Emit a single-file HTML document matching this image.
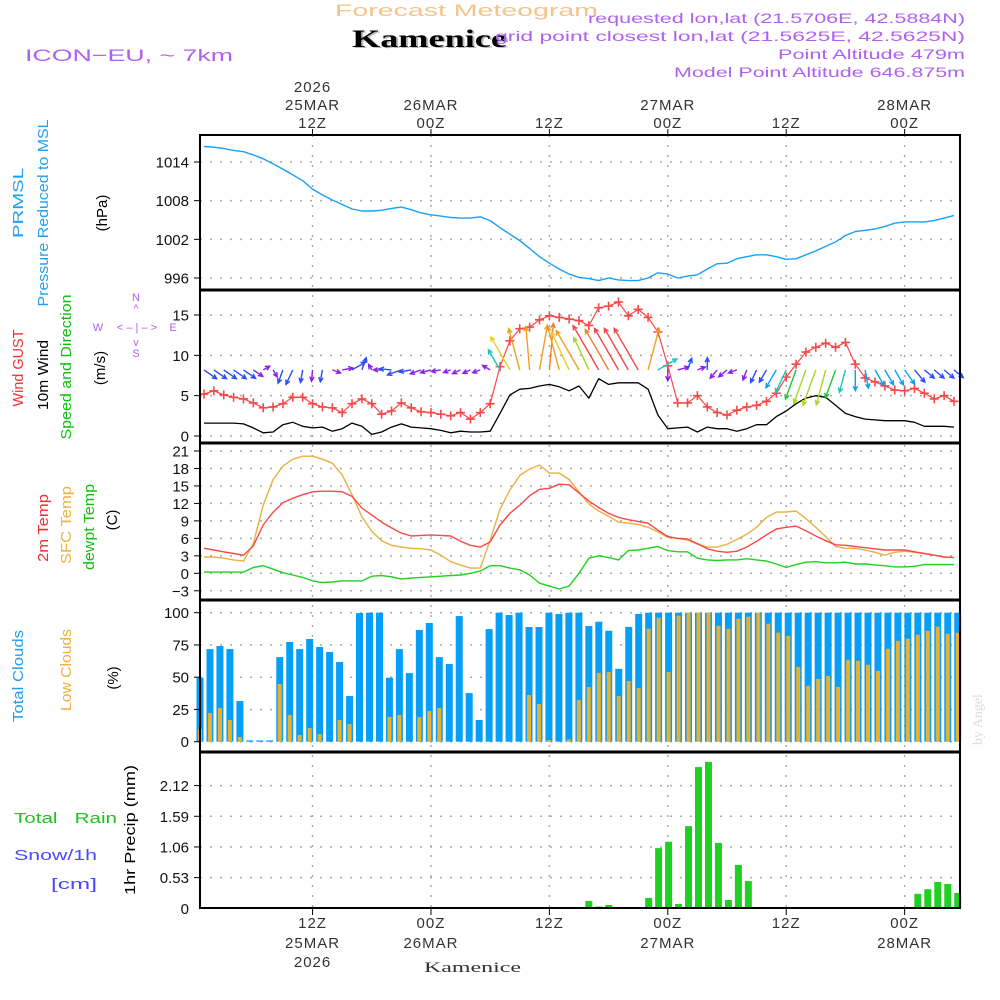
<!DOCTYPE html>
<html><head><meta charset="utf-8"><style>
html,body{margin:0;padding:0;background:#fff;}
svg{display:block;font-family:"Liberation Sans",sans-serif;}
</style></head><body>
<svg id="chart" xmlns="http://www.w3.org/2000/svg" width="1000" height="1000" viewBox="0 0 1000 1000">
<rect x="0" y="0" width="1000" height="1000" fill="#fff"/>
<g id="grid"></g>
<g id="marks"></g>
<g id="frames"></g>
<g id="ticks" font-size="15" fill="#111"></g>
<!-- header -->
<text x="335" y="16" font-size="17" fill="#f4c488" textLength="263" lengthAdjust="spacingAndGlyphs">Forecast Meteogram</text>
<text x="354" y="48" font-size="25" font-weight="bold" font-family="Liberation Serif, serif" fill="#bbb" textLength="155" lengthAdjust="spacingAndGlyphs">Kamenice</text>
<text x="352" y="47" font-size="25" font-weight="bold" font-family="Liberation Serif, serif" fill="#000" textLength="155" lengthAdjust="spacingAndGlyphs">Kamenice</text>
<text x="25" y="61" font-size="17" fill="#b060f0" textLength="208" lengthAdjust="spacingAndGlyphs">ICON−EU, ~ 7km</text>
<g font-size="14" fill="#b060f0" text-anchor="end">
<text x="965" y="23" textLength="377" lengthAdjust="spacingAndGlyphs">requested lon,lat (21.5706E, 42.5884N)</text>
<text x="965" y="41" textLength="470" lengthAdjust="spacingAndGlyphs">grid point closest lon,lat (21.5625E, 42.5625N)</text>
<text x="965" y="59" textLength="187" lengthAdjust="spacingAndGlyphs">Point Altitude 479m</text>
<text x="965" y="77" textLength="291" lengthAdjust="spacingAndGlyphs">Model Point Altitude 646.875m</text>
</g>
<!-- left labels -->
<g font-size="15">
<text transform="translate(23,203) rotate(-90)" text-anchor="middle" fill="#20a0f0" textLength="70" lengthAdjust="spacingAndGlyphs">PRMSL</text>
<text transform="translate(48,213) rotate(-90)" text-anchor="middle" fill="#20a0f0" textLength="187" lengthAdjust="spacingAndGlyphs">Pressure Reduced to MSL</text>
<text transform="translate(107,213) rotate(-90)" text-anchor="middle" fill="#000">(hPa)</text>
<text transform="translate(23,368) rotate(-90)" text-anchor="middle" fill="#f03030" textLength="77" lengthAdjust="spacingAndGlyphs">Wind GUST</text>
<text transform="translate(48,375) rotate(-90)" text-anchor="middle" fill="#000" textLength="70" lengthAdjust="spacingAndGlyphs">10m Wind</text>
<text transform="translate(71,367) rotate(-90)" text-anchor="middle" fill="#10c010" textLength="145" lengthAdjust="spacingAndGlyphs">Speed and Direction</text>
<text transform="translate(105,368) rotate(-90)" text-anchor="middle" fill="#000">(m/s)</text>
<text transform="translate(48,528) rotate(-90)" text-anchor="middle" fill="#f03030" textLength="68" lengthAdjust="spacingAndGlyphs">2m Temp</text>
<text transform="translate(71,525) rotate(-90)" text-anchor="middle" fill="#f0b040" textLength="78" lengthAdjust="spacingAndGlyphs">SFC Temp</text>
<text transform="translate(94,527) rotate(-90)" text-anchor="middle" fill="#10c010" textLength="86" lengthAdjust="spacingAndGlyphs">dewpt Temp</text>
<text transform="translate(117,520) rotate(-90)" text-anchor="middle" fill="#000">(C)</text>
<text transform="translate(23,676) rotate(-90)" text-anchor="middle" fill="#20a0f0" textLength="92" lengthAdjust="spacingAndGlyphs">Total Clouds</text>
<text transform="translate(71,670) rotate(-90)" text-anchor="middle" fill="#f0b040" textLength="82" lengthAdjust="spacingAndGlyphs">Low Clouds</text>
<text transform="translate(118,678) rotate(-90)" text-anchor="middle" fill="#000">(%)</text>
<text transform="translate(135,830) rotate(-90)" text-anchor="middle" fill="#000" textLength="130" lengthAdjust="spacingAndGlyphs">1hr Precip (mm)</text>
<text x="14" y="823" fill="#20c020" textLength="103" lengthAdjust="spacingAndGlyphs" xml:space="preserve">Total   Rain</text>
<text x="14" y="860" fill="#4848ff" textLength="83" lengthAdjust="spacingAndGlyphs">Snow/1h</text>
<text x="51" y="889" fill="#4848ff" textLength="46" lengthAdjust="spacingAndGlyphs">[cm]</text>
</g>
<g font-size="11" fill="#b060f0" text-anchor="middle">
<text x="136" y="301">N</text><text x="136" y="312">^</text><text x="137" y="331">&lt; – | – &gt;</text>
<text x="98" y="331">W</text><text x="173" y="331">E</text><text x="136" y="346">v</text><text x="136" y="357">S</text>
</g>
<text transform="translate(982,745) rotate(-90)" font-size="14" font-family="Liberation Serif, serif" fill="#ddd">by Angel</text>
<text x="424" y="972" font-size="15" font-family="Liberation Serif, serif" fill="#333" textLength="97" lengthAdjust="spacingAndGlyphs">Kamenice</text>
</svg>
<script>
const hours = [];
for (let i = 0; i < 77; i++) hours.push(i);
const timeTickHours = [11, 23, 35, 47, 59, 71];
const timeTickTop = [["2026","25MAR","12Z"],["","26MAR","00Z"],["","","12Z"],["","27MAR","00Z"],["","","12Z"],["","28MAR","00Z"]];
const timeTickBottom = [["12Z","25MAR","2026"],["00Z","26MAR",""],["12Z","",""],["00Z","27MAR",""],["12Z","",""],["00Z","28MAR",""]];

const pressure = [1016.4,1016.3,1016.1,1015.8,1015.6,1015.1,1014.5,1013.7,1012.9,1012.0,1011.1,1009.8,1008.9,1008.1,1007.4,1006.7,1006.4,1006.4,1006.5,1006.8,1007.0,1006.6,1006.1,1005.8,1005.6,1005.4,1005.3,1005.3,1005.5,1004.9,1003.8,1002.8,1001.8,1000.6,999.3,998.3,997.4,996.6,996.1,995.9,995.6,996.0,995.7,995.6,995.6,996.0,996.8,996.6,996.0,996.3,996.5,997.4,998.2,998.3,999.0,999.3,999.6,999.6,999.3,998.9,999.0,999.6,1000.2,1000.9,1001.6,1002.6,1003.2,1003.4,1003.6,1004.0,1004.5,1004.7,1004.7,1004.7,1004.9,1005.3,1005.7];
const pressureTicks = [996, 1002, 1008, 1014];

const gust = [5.2,5.6,5.1,4.8,4.6,4.1,3.5,3.6,4.0,4.8,4.8,4.0,3.6,3.5,2.9,4.0,4.6,4.0,2.7,3.1,4.1,3.5,3.0,2.9,2.7,2.5,2.9,2.1,2.9,4.0,8.6,11.8,13.3,13.5,14.4,14.9,14.7,14.5,14.3,13.7,15.9,16.1,16.6,14.9,15.7,14.7,12.9,8.7,4.1,4.1,5.0,3.6,2.9,2.6,3.2,3.6,3.8,4.3,5.3,7.3,8.9,10.4,11.0,11.5,11.0,11.6,8.9,7.2,6.7,6.2,5.7,5.6,5.9,5.3,4.6,5.0,4.3];
const wind10m = [1.6,1.6,1.6,1.6,1.5,1.0,0.4,0.5,1.4,1.7,1.2,1.0,1.1,0.6,0.9,1.6,1.2,0.2,0.5,1.1,1.5,1.1,1.0,0.9,0.7,0.4,0.6,0.5,0.5,0.6,2.8,5.1,5.8,5.9,6.2,6.4,6.1,5.6,6.2,4.7,7.1,6.4,6.6,6.6,6.6,5.8,2.6,0.9,1.0,1.1,0.5,1.1,0.9,0.9,0.6,0.9,1.4,1.4,2.4,3.1,4.0,4.7,5.0,4.8,3.8,2.8,2.4,2.1,2.0,1.9,1.9,1.9,1.7,1.2,1.2,1.2,1.1];
const windDir = [125,125,125,125,125,125,60,150,200,205,190,185,190,110,80,60,20,330,270,275,250,260,250,255,260,250,245,245,250,300,330,330,345,355,10,5,345,335,330,335,330,330,330,330,330,15,60,180,75,20,70,0,220,230,250,200,205,210,210,205,200,200,200,195,200,195,180,170,150,150,150,145,140,130,130,130,130];
const windTicks = [0, 5, 10, 15];

const temp2m = [4.3,4.0,3.7,3.4,3.1,4.7,8.3,10.5,12.1,12.9,13.5,14.0,14.1,14.1,14.0,13.2,11.2,10.0,8.8,7.8,6.9,6.4,6.5,6.6,6.5,6.4,5.5,4.8,4.5,5.4,8.3,10.3,11.7,13.3,14.4,14.6,15.3,15.2,13.8,12.4,11.3,10.3,9.6,9.2,8.9,8.6,7.4,6.3,6.0,5.9,5.1,4.2,3.8,3.6,3.8,4.5,5.5,6.6,7.6,7.9,8.1,7.3,6.4,5.6,4.9,4.8,4.6,4.4,4.2,4.0,4.0,4.0,3.7,3.4,3.1,2.8,2.7];
const tempSfc = [2.8,2.8,2.6,2.3,2.1,5.1,11.7,16.1,18.4,19.6,20.1,20.1,19.6,18.9,16.9,13.5,9.7,7.2,5.6,4.8,4.5,4.3,4.2,4.0,3.1,2.0,1.4,0.9,0.9,5.7,11.0,14.3,16.8,17.9,18.6,17.2,17.2,16.1,14.0,11.9,10.7,9.8,8.8,8.6,8.4,7.9,7.1,6.2,6.0,5.7,5.0,4.5,4.5,5.0,5.8,6.7,7.9,9.6,10.5,10.5,10.7,9.4,7.9,6.3,4.6,4.3,4.3,4.0,3.6,3.1,3.6,3.8,3.6,3.4,3.1,2.8,2.7];
const dewpoint = [0.2,0.2,0.2,0.2,0.2,1.0,1.3,0.7,0.1,-0.3,-0.7,-1.3,-1.6,-1.5,-1.3,-1.3,-1.3,-0.5,-0.4,-0.6,-1.0,-0.8,-0.7,-0.6,-0.5,-0.4,-0.3,0,0.4,1.3,1.3,0.9,0.6,-0.3,-1.7,-2.2,-2.7,-2.2,0,2.6,3.0,2.7,2.3,3.9,4.0,4.3,4.6,3.9,3.7,3.7,2.6,2.3,2.2,2.3,2.3,2.5,2.3,2.1,1.6,1.0,1.5,1.9,2.0,1.8,1.8,1.9,1.6,1.6,1.4,1.3,1.1,1.1,1.2,1.5,1.5,1.5,1.5];
const tempTicks = [-3, 0, 3, 6, 9, 12, 15, 18, 21];

const totalClouds = [49.6,71.8,74.2,71.8,31.5,1,1,1,65.6,77.3,71.8,79.6,73.4,69.5,61.8,35.4,99.7,100,100,49.6,71.8,53.2,86.6,92,65.6,60.2,97.4,37.7,16.8,87.3,100,98.2,100,88.9,88.9,100,99,100,100,89.7,93,86,56.5,89,99,100,100,100,100,100,100,100,100,100,100,100,100,100,100,100,100,100,100,100,100,100,100,100,100,100,100,100,100,100,100,100,100];
const lowClouds = [9.8,22.2,26.1,16.8,3.6,0,0,0,44.7,20.7,5.2,10.6,5.9,0,16.8,13.7,0,0,0,19.1,20.7,0,19.1,23.8,26.1,0,0,0,0,0,0,0,0,36.2,29.2,1.3,0,1.8,32.3,42.4,53.4,54.1,35.5,47,41.7,87.6,96.1,54.1,97.7,100,100,100,89.9,87.6,95.3,96.9,100,91.5,84.5,82.1,58,43.3,48.7,51,42.5,63.5,62.7,59.6,54.9,72,78.2,79.8,82.9,86,89.1,83.7,84.5];
const cloudTicks = [0, 25, 50, 75, 100];

const precip = [0,0,0,0,0,0,0,0,0,0,0,0,0,0,0,0,0,0,0,0,0,0,0,0,0,0,0,0,0,0,0,0,0,0,0,0,0,0,0,0.127,0.03,0.058,0,0.005,0,0.18,1.04,1.15,0.075,1.42,2.44,2.53,1.13,0.144,0.75,0.47,0,0,0,0,0,0,0,0,0,0,0,0,0,0,0,0,0.25,0.33,0.455,0.42,0.265];
const precipTicks = [0, 0.53, 1.06, 1.59, 2.12];
const precipTickLabels = ["0", "0.53", "1.06", "1.59", "2.12"];

// axis functions
const X0 = 200, X1 = 960;
function xH(h) { return 204 + h * 9.868; }
function xBar(k) { return 200 + k * 9.97; }
function linY(v0, y0, v1, y1) { return v => y0 + (v - v0) * (y1 - y0) / (v1 - v0); }
const yP = linY(996, 278, 1014, 162);
const yW = linY(0, 436, 15, 315);
const yT = linY(0, 573.3, 21, 451);
const yC = linY(0, 741.7, 100, 612.7);
const yR = linY(0, 908.3, 2.12, 785.6);
const panels = [[135,290],[290,443],[443,600],[600,752],[752,908]];

const NS = "http://www.w3.org/2000/svg";
function mk(tag, attrs, parent) {
  const e = document.createElementNS(NS, tag);
  for (const k in attrs) e.setAttribute(k, attrs[k]);
  parent.appendChild(e);
  return e;
}
const grid = document.getElementById('grid');
const marks = document.getElementById('marks');
const frames = document.getElementById('frames');
const ticks = document.getElementById('ticks');

function hgrid(vals, yf, name) {
  vals.forEach(v => {
    const l = mk('line', {x1: X0, x2: X1, y1: yf(v), y2: yf(v), stroke: '#aaa', 'stroke-width': 1.5, 'stroke-dasharray': '2 8'}, grid);
    
    
    const t = mk('line', {x1: 194, x2: 200, y1: yf(v), y2: yf(v), stroke: '#000', 'stroke-width': 1}, ticks);
    
    
  });
}
hgrid(pressureTicks, yP, 'pressure');
hgrid(windTicks, yW, 'wind');
hgrid(tempTicks, yT, 'temp');
hgrid(cloudTicks, yC, 'cloud');
hgrid(precipTicks.slice(1), yR, 'precip');
timeTickHours.forEach(h => {
  const l = mk('line', {x1: xH(h), x2: xH(h), y1: 135, y2: 908, stroke: '#aaa', 'stroke-width': 1.5, 'stroke-dasharray': '2 8'}, grid);
  
  
  mk('line', {x1: xH(h), x2: xH(h), y1: 129, y2: 135, stroke: '#000'}, ticks);
  mk('line', {x1: xH(h), x2: xH(h), y1: 908, y2: 915, stroke: '#000'}, ticks);
});

function ylabels(vals, labels, yf, name) {
  vals.forEach((v, i) => {
    const t = mk('text', {x: 189, y: yf(v) + 5.5, 'text-anchor': 'end'}, ticks);
    
    
    t.textContent = labels[i];
  });
}
ylabels(pressureTicks, pressureTicks.map(String), yP, 'pressure');
ylabels(windTicks, windTicks.map(String), yW, 'wind');
ylabels(tempTicks, tempTicks.map(v => v < 0 ? '−' + (-v) : String(v)), yT, 'temp');
ylabels(cloudTicks, cloudTicks.map(String), yC, 'cloud');
ylabels(precipTicks, precipTickLabels, yR, 'precip');

timeTickHours.forEach((h, i) => {
  const top = timeTickTop[i];
  [92, 110, 128].forEach((yy, j) => {
    if (!top[j]) return;
    const t = mk('text', {x: xH(h), y: yy, 'text-anchor': 'middle', fill: '#333', 'letter-spacing': '1'}, ticks);
    
    
    t.textContent = top[j];
  });
  const bot = timeTickBottom[i];
  [928, 948, 967].forEach((yy, j) => {
    if (!bot[j]) return;
    const t = mk('text', {x: xH(h), y: yy, 'text-anchor': 'middle', fill: '#333', 'letter-spacing': '1'}, ticks);
    
    
    t.textContent = bot[j];
  });
});

function line(vals, yf, color, name, w) {
  const d = vals.map((v, i) => (i ? 'L' : 'M') + xH(i).toFixed(1) + ' ' + yf(v).toFixed(1)).join(' ');
  const p = mk('path', {d: d, fill: 'none', stroke: color, 'stroke-width': w || 1.3, 'stroke-linejoin': 'round'}, marks);
  
  
}

totalClouds.forEach((v, k) => {
  const r = mk('rect', {x: xBar(k) - 3.5, y: yC(v), width: 7, height: Math.max(0, yC(0) - yC(v)), fill: '#069ff8'}, marks);
  
  
});
lowClouds.forEach((v, k) => {
  if (v <= 0) return;
  const r = mk('rect', {x: xBar(k) - 2, y: yC(v), width: 4, height: yC(0) - yC(v), fill: '#e8b02e'}, marks);
  
  
});
precip.forEach((v, k) => {
  if (v <= 0) return;
  const r = mk('rect', {x: xBar(k) - 3.5, y: yR(v), width: 7, height: yR(0) - yR(v), fill: '#20d020'}, marks);
  
  
});

line(pressure, yP, '#18a0f8', 'pressure-line', 1.4);
line(wind10m, yW, '#000', 'wind-10m-line', 1.3);
line(gust, yW, '#f84848', 'gust-line', 1.2);
gust.forEach((v, i) => {
  const x = xH(i), y = yW(v);
  const p = mk('path', {d: `M${x-4.5} ${y}H${x+4.5}M${x} ${y-4.5}V${y+4.5}`, stroke: '#f84848', 'stroke-width': 1.6}, marks);
  
  
});
line(tempSfc, yT, '#eab040', 'sfc-temp-line', 1.4);
line(temp2m, yT, '#f84848', 't2m-line', 1.4);
line(dewpoint, yT, '#20d020', 'dewpoint-line', 1.4);

function windColor(s) {
  if (s <= 1.0) return '#8a20e8';
  if (s <= 1.8) return '#2a4cf8';
  if (s <= 2.5) return '#10a0f0';
  if (s <= 3.3) return '#10c8c0';
  if (s <= 4.2) return '#20c040';
  if (s <= 5.0) return '#a8d820';
  if (s <= 5.7) return '#e8d020';
  if (s <= 6.2) return '#f0a020';
  if (s <= 6.5) return '#f08030';
  return '#f04848';
}
wind10m.forEach((s, i) => {
  const x0 = xH(i), y0 = yW(8.2);
  const len = 5 + s * 6.5;
  const a = windDir[i] * Math.PI / 180;
  const dx = Math.sin(a), dy = -Math.cos(a);
  const x1 = x0 + dx * len, y1 = y0 + dy * len;
  const hl = 5, ha = 0.45;
  const b = Math.atan2(-dy, -dx);
  const hx1 = x1 + hl * Math.cos(b + ha), hy1 = y1 + hl * Math.sin(b + ha);
  const hx2 = x1 + hl * Math.cos(b - ha), hy2 = y1 + hl * Math.sin(b - ha);
  const p = mk('path', {d: `M${x0.toFixed(1)} ${y0.toFixed(1)}L${x1.toFixed(1)} ${y1.toFixed(1)}M${hx1.toFixed(1)} ${hy1.toFixed(1)}L${x1.toFixed(1)} ${y1.toFixed(1)}L${hx2.toFixed(1)} ${hy2.toFixed(1)}`, stroke: windColor(s), 'stroke-width': 1.4, fill: 'none'}, marks);
  
  
});

panels.forEach(([a, b]) => {
  const r = mk('rect', {x: X0, y: a, width: X1 - X0, height: b - a, fill: 'none', stroke: '#000', 'stroke-width': 2}, frames);
  
  
});
[290, 443, 600, 752].forEach(y => {
  const l = mk('line', {x1: X0, x2: X1, y1: y, y2: y, stroke: '#000', 'stroke-width': 3}, frames);
  
  
});
</script>
</body></html>
